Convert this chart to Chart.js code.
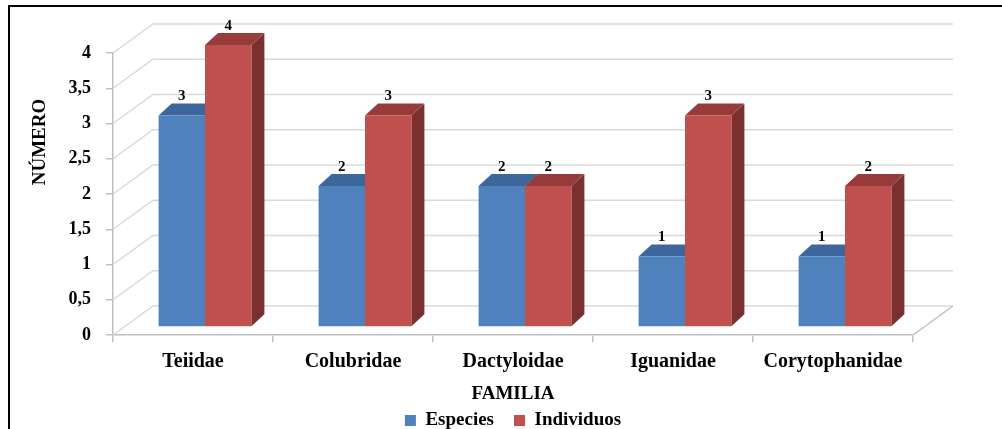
<!DOCTYPE html>
<html>
<head>
<meta charset="utf-8">
<script src="https://cdn.jsdelivr.net/npm/chart.js@4.4.1/dist/chart.umd.min.js"></script>
<style>
    html, body { margin: 0; padding: 0; background: #fff; }
    #wrap { position: relative; width: 1002px; height: 429px; overflow: hidden; }
    #frame {
        position: absolute; left: 8px; top: 5px; width: 1100px; height: 500px;
        border-top: 2px solid #000; border-left: 2px solid #000;
    }
    canvas { position: absolute; left: 0; top: 0; }
</style>
</head>
<body>
<div id="wrap">
    <div id="frame"></div>
    <canvas id="chart" width="1002" height="429"></canvas>
</div>
<script>
// data
const familias = ["Teiidae", "Colubridae", "Dactyloidae", "Iguanidae", "Corytophanidae"];
const especies = [3, 2, 2, 1, 1];
const individuos = [4, 3, 2, 3, 2];
const yTicks = [0, 0.5, 1, 1.5, 2, 2.5, 3, 3.5, 4];

const SERIF = "'Liberation Serif', 'Times New Roman', serif";

// depth of the 3D box / bars
const WALL_DX = 40, WALL_DY = 29;
const BAR_SHIFT_X = 12, BAR_SHIFT_Y = 8;
const BAR_DX = 13, BAR_DY = 12;

const shades = [
    { top: "#3d679c", side: "#2f527e" },
    { top: "#973c3a", side: "#7a302e" }
];

// paredes y lineas de division en perspectiva
const walls = {
    id: "walls",
    beforeDatasetsDraw(chart) {
        const { ctx, chartArea: a, scales: { y } } = chart;
        ctx.save();
        ctx.strokeStyle = "#d9d9d9";
        ctx.lineWidth = 1.5;
        yTicks.forEach((v) => {
            const py = y.getPixelForValue(v);
            ctx.beginPath();
            ctx.moveTo(a.left, py);
            ctx.lineTo(a.left + WALL_DX, py - WALL_DY);
            ctx.lineTo(a.right + WALL_DX, py - WALL_DY);
            ctx.stroke();
        });
        // borde derecho del piso
        ctx.strokeStyle = "#bfbfbf";
        ctx.beginPath();
        ctx.moveTo(a.right, a.bottom);
        ctx.lineTo(a.right + WALL_DX, a.bottom - WALL_DY);
        ctx.stroke();
        ctx.restore();

        // caras superiores y laterales de las barras
        ctx.save();
        ctx.translate(BAR_SHIFT_X, -BAR_SHIFT_Y);
        chart.data.datasets.forEach((ds, i) => {
            const meta = chart.getDatasetMeta(i);
            meta.data.forEach((bar) => {
                const l = bar.x - bar.width / 2, r = bar.x + bar.width / 2;
                const t = bar.y, b = bar.base;
                ctx.fillStyle = shades[i].side;
                ctx.beginPath();
                ctx.moveTo(r, t);
                ctx.lineTo(r + BAR_DX, t - BAR_DY);
                ctx.lineTo(r + BAR_DX, b - BAR_DY);
                ctx.lineTo(r, b);
                ctx.closePath();
                ctx.fill();
                ctx.fillStyle = shades[i].top;
                ctx.beginPath();
                ctx.moveTo(l, t);
                ctx.lineTo(l + BAR_DX, t - BAR_DY);
                ctx.lineTo(r + BAR_DX, t - BAR_DY);
                ctx.lineTo(r, t);
                ctx.closePath();
                ctx.fill();
            });
        });
    },
    afterDatasetsDraw(chart) {
        const { ctx } = chart;
        // etiquetas de valor
        ctx.fillStyle = "#000";
        ctx.font = "bold 15px " + SERIF;
        ctx.textAlign = "center";
        ctx.textBaseline = "middle";
        chart.data.datasets.forEach((ds, i) => {
            chart.getDatasetMeta(i).data.forEach((bar, j) => {
                ctx.fillText(ds.data[j], bar.x, bar.y - 19);
            });
        });
        ctx.restore();

        // titulo del eje Y
        ctx.save();
        ctx.translate(40, 142);
        ctx.rotate(-Math.PI / 2);
        ctx.font = "bold 19px " + SERIF;
        ctx.fillStyle = "#000";
        ctx.textAlign = "center";
        ctx.textBaseline = "middle";
        ctx.fillText("NÚMERO", 0, 0);
        ctx.restore();
    }
};

new Chart(document.getElementById("chart"), {
    type: "bar",
    data: {
        labels: familias,
        datasets: [
            { label: "Especies", data: especies, backgroundColor: "#4f81bd" },
            { label: "Individuos", data: individuos, backgroundColor: "#c0504d" }
        ]
    },
    options: {
        responsive: false,
        animation: false,
        layout: { padding: { left: 0, right: 89, top: 53, bottom: -11 } },
        datasets: {
            bar: { categoryPercentage: 0.58, barPercentage: 1 }
        },
        plugins: {
            tooltip: { enabled: false },
            legend: {
                position: "bottom",
                fullSize: false,
                labels: {
                    color: "#000",
                    font: { family: SERIF, size: 19, weight: "bold" },
                    boxWidth: 11,
                    boxHeight: 11,
                    padding: 20
                }
            }
        },
        scales: {
            x: {
                afterFit: (s) => { s.height = 56; },
                grid: {
                    drawOnChartArea: false,
                    tickLength: 7,
                    color: "#bfbfbf",
                    lineWidth: 1.5
                },
                border: { color: "#bfbfbf", width: 1.5 },
                ticks: {
                    color: "#000",
                    padding: 8,
                    font: { family: SERIF, size: 20, weight: "bold" }
                },
                title: {
                    display: true,
                    text: "FAMILIA",
                    color: "#000",
                    padding: { top: 0, bottom: -14 },
                    font: { family: SERIF, size: 19, weight: "bold" }
                }
            },
            y: {
                min: 0,
                max: 4,
                afterFit: (s) => { s.width = 113; },
                afterBuildTicks: (s) => { s.ticks = yTicks.map((v) => ({ value: v })); },
                grid: {
                    drawOnChartArea: false,
                    tickLength: 7,
                    color: "#bfbfbf",
                    lineWidth: 1.5
                },
                border: { color: "#bfbfbf", width: 1.5 },
                ticks: {
                    color: "#000",
                    padding: 15,
                    font: { family: SERIF, size: 18, weight: "bold" },
                    callback: (v) => String(v).replace(".", ",")
                }
            }
        }
    },
    plugins: [walls]
});
</script>
</body>
</html>
